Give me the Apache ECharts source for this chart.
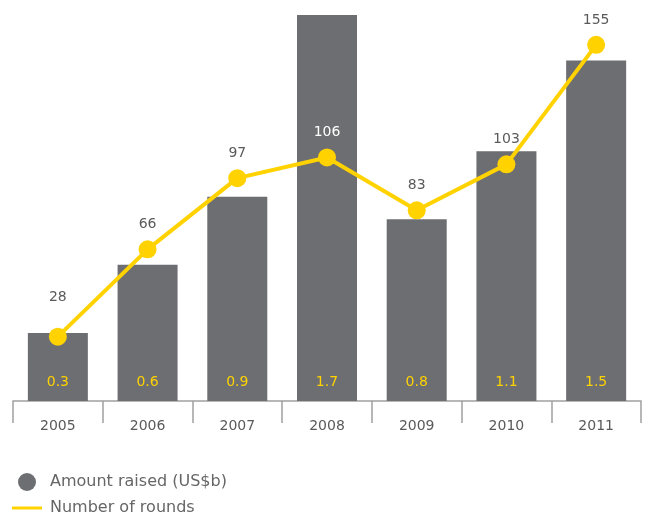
<!DOCTYPE html>
<html>
<head>
<meta charset="utf-8">
<script src="https://cdn.jsdelivr.net/npm/echarts@6/dist/echarts.min.js"></script>
<style>
html,body{margin:0;padding:0;background:#fff;}
#chart{width:646px;height:519px;}
</style>
</head>
<body>
<div id="chart"></div>
<script>
var years = ['2005', '2006', '2007', '2008', '2009', '2010', '2011'];
var amountRaised = [0.3, 0.6, 0.9, 1.7, 0.8, 1.1, 1.5];
var numberOfRounds = [28, 66, 97, 106, 83, 103, 155];

var GRAY = '#6d6e71';
var YELLOW = '#ffd200';
var FONT = 'DejaVu Sans';

var chart = echarts.init(document.getElementById('chart'));
chart.setOption({
  animation: false,
  backgroundColor: '#ffffff',
  textStyle: { fontFamily: FONT },
  grid: { left: 13, right: 5, top: 15, bottom: 118 },
  legend: {
    orient: 'vertical',
    left: 12,
    top: 473,
    padding: 0,
    itemWidth: 30,
    itemHeight: 18,
    itemGap: 9,
    textStyle: { fontFamily: FONT, fontSize: 16, color: '#666666', padding: [0, 0, 0, 3] },
    data: [
      { name: 'Amount raised (US$b)', icon: 'circle' },
      { name: 'Number of rounds', icon: 'path://M0,0H30V3H0Z' }
    ]
  },
  xAxis: {
    type: 'category',
    data: years,
    boundaryGap: true,
    axisLine: { lineStyle: { color: '#a0a0a0', width: 1.5 } },
    axisTick: { show: true, length: 22, lineStyle: { color: '#a0a0a0', width: 1.5 } },
    axisLabel: { margin: 18, fontFamily: FONT, fontSize: 14, color: '#5a5a5a' }
  },
  yAxis: [
    { type: 'value', min: 0, max: 1.7, show: false, splitLine: { show: false } },
    { type: 'value', min: 0, max: 168, show: false, splitLine: { show: false } }
  ],
  series: [
    {
      name: 'Amount raised (US$b)',
      type: 'bar',
      yAxisIndex: 0,
      barWidth: 60,
      itemStyle: { color: GRAY },
      label: {
        show: true,
        position: 'insideBottom',
        distance: 12,
        fontFamily: FONT,
        fontSize: 14,
        color: YELLOW,
        formatter: function (p) { return p.value.toFixed(1); }
      },
      data: amountRaised
    },
    {
      name: 'Number of rounds',
      type: 'line',
      yAxisIndex: 1,
      symbol: 'circle',
      symbolSize: 18,
      itemStyle: { color: YELLOW },
      lineStyle: { color: YELLOW, width: 4 },
      label: {
        show: true,
        position: 'top',
        distance: 9,
        fontFamily: FONT,
        fontSize: 14,
        color: '#5a5a5a'
      },
      data: numberOfRounds.map(function (v, i) {
        var item = { value: v };
        if (i === 0) item.label = { distance: 23 };
        if (i === 3) item.label = { color: '#ffffff' };
        return item;
      }),
      z: 5
    }
  ]
});
</script>
</body>
</html>
